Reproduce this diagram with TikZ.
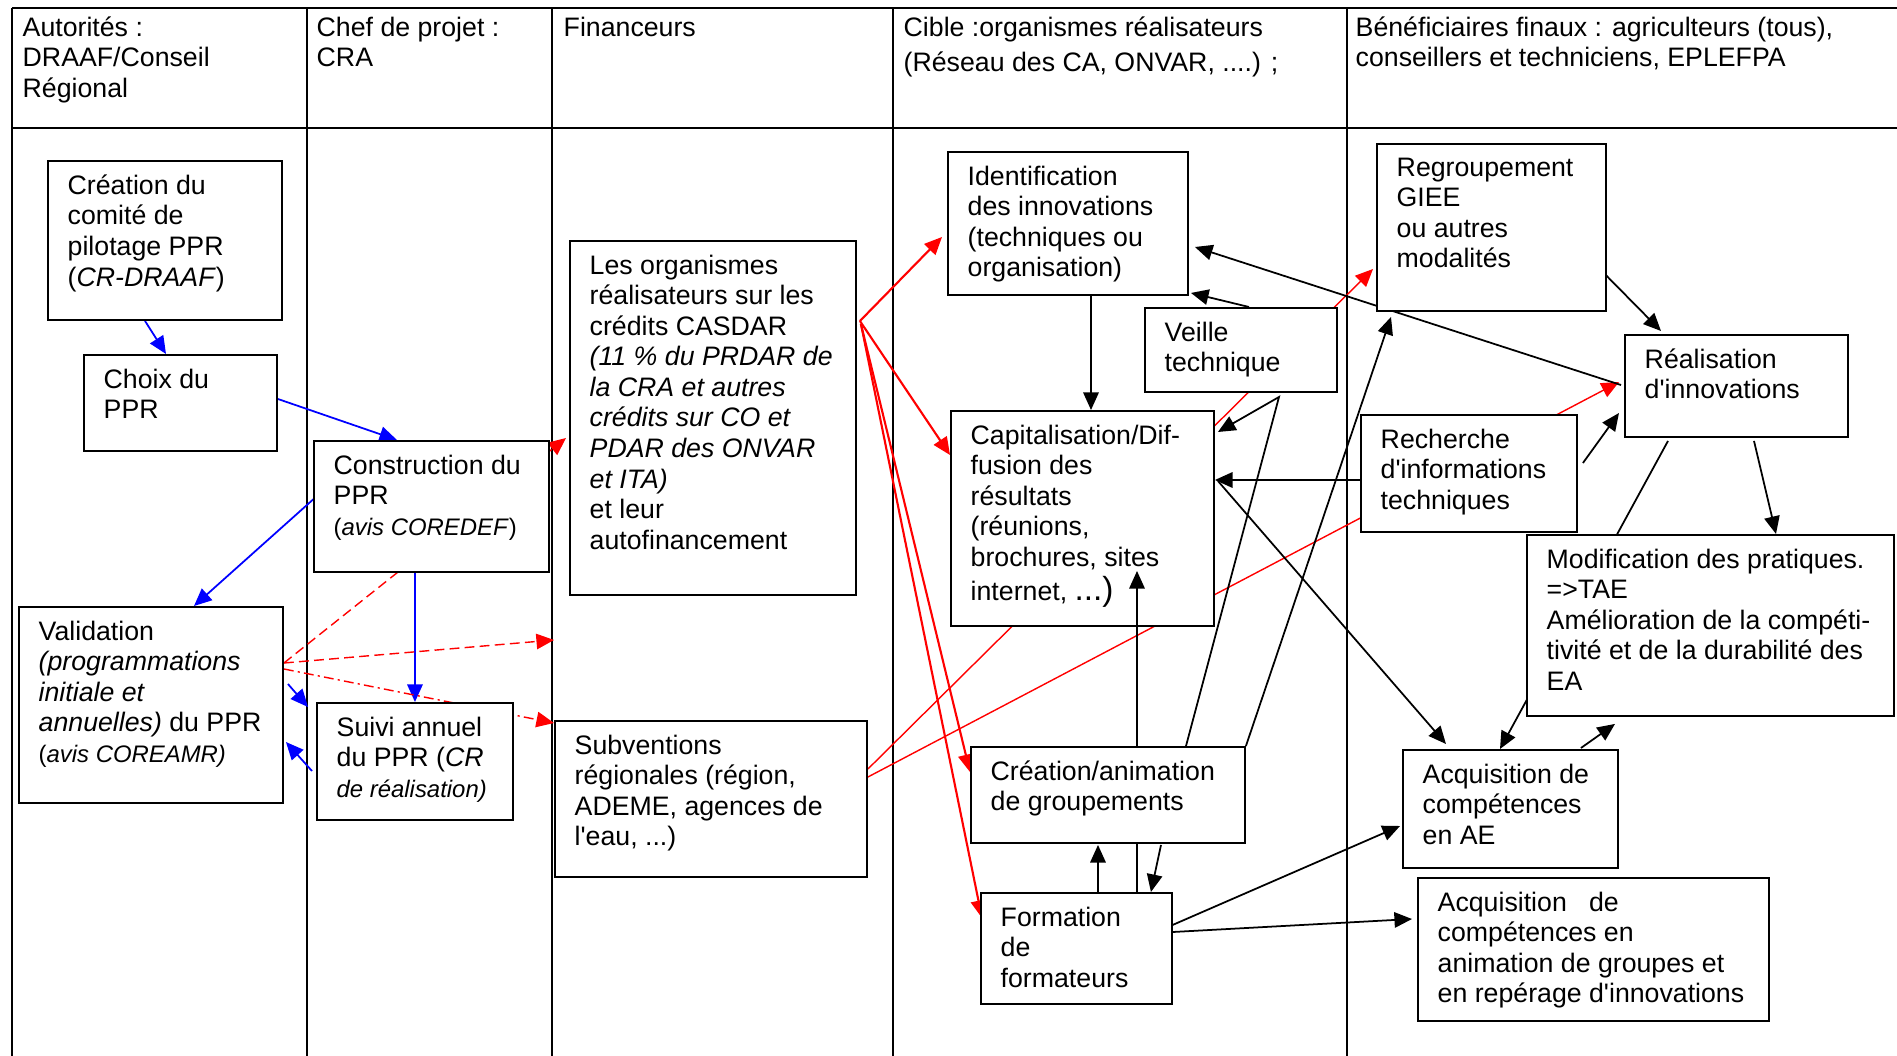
\documentclass[tikz,border=0pt]{standalone}
\usepackage{fontspec}
\setmainfont{Liberation Sans}[Ligatures=TeXOff]
\usetikzlibrary{calc,arrows.meta}

\pgfdeclarelayer{fond}
\pgfsetlayers{fond,main}

\newcommand{\petit}{\fontsize{6.8pt}{8.7pt}\selectfont}
% boite : nom, x1, y1, x2, y2, texte
\newcommand{\boite}[6]{%
  \node[cadre, minimum width={(#4-#2)*0.1mm}, minimum height={(#5-#3)*0.1mm}] (#1) at (#2,#3) {};
  \node[texte] (#1-t) at ($(#1.north west)+(20,14)$) {#6};
}

\begin{document}
\begin{tikzpicture}[x=0.1mm, y=-0.1mm,
  cadre/.style={draw, line width=0.55pt, fill=white, anchor=north west, inner sep=0pt},
  texte/.style={anchor=north west, align=left, inner sep=0pt, font=\fontsize{7.6pt}{8.7pt}\selectfont},
  fleche/.style={-{Triangle[length=5pt,width=4.4pt]}, line width=0.5pt},
  bleu/.style={fleche, blue},
  rouge/.style={fleche, red, line width=0.6pt},
  fin/.style={line width=0.4pt},
  tirets/.style={dash pattern=on 2.8pt off 1.5pt},
  mixte/.style={dash pattern=on 2.8pt off 1.2pt on 0.6pt off 1.2pt},
  trait/.style={line width=0.6pt}]

\useasboundingbox (0,0) rectangle (1897,1056);

% ===== Tableau =====
\begin{pgfonlayer}{fond}
\draw[trait] (12,8) -- (1897,8);
\draw[trait] (12,128) -- (1897,128);
\foreach \x in {12,307,552,893,1347} {
    \draw[trait] (\x,8) -- (\x,1056);
}
\end{pgfonlayer}

% ===== En-tetes =====
\node[texte] (h-aut) at (22,16) {Autorités :\\DRAAF/Conseil\\Régional};
\node[texte] (h-chef) at (316,16) {Chef de projet :\\CRA};
\node[texte] (h-fin) at (563,16) {Financeurs};
\node[texte] (h-cible) at (903,16) {Cible :organismes réalisateurs\\[1.3pt](Réseau des CA, ONVAR, ....) ;};
\node[texte] (h-benef) at (1355,16) {Bénéficiaires finaux : agriculteurs (tous),\\conseillers et techniciens, EPLEFPA};

% ===== Autorites / chef de projet =====
\boite{crea}{47}{160}{281}{319}{Création du\\comité de\\pilotage PPR\\(\textit{CR-DRAAF})}
\boite{choix}{83}{354}{276}{450}{Choix du\\PPR}
\boite{cons}{313}{440}{548}{571}{Construction du\\PPR\\{\petit(\textit{avis COREDEF})}}
\boite{valid}{18}{606}{282}{802}{Validation\\\textit{(programmations}\\\textit{initiale et}\\\textit{annuelles)} du PPR\\{\petit(\textit{avis COREAMR)}}}
\boite{suivi}{316}{702}{512}{819}{Suivi annuel\\du PPR (\textit{CR}\\{\petit\textit{de réalisation)}}}

% ===== Financeurs =====
\boite{orga}{569}{240}{855}{594}{Les organismes\\réalisateurs sur les\\crédits CASDAR\\\textit{(11 \% du PRDAR de}\\\textit{la CRA et autres}\\\textit{crédits sur CO et}\\\textit{PDAR des ONVAR}\\\textit{et ITA)}\\et leur\\autofinancement}
\boite{subv}{554}{720}{866}{876}{Subventions\\régionales (région,\\ADEME, agences de\\l'eau, ...)}

% ===== Organismes realisateurs =====
\boite{ident}{947}{151}{1187}{294}{Identification\\des innovations\\(techniques ou\\organisation)}
\boite{veille}{1144}{307}{1336}{391}{Veille\\technique}
\boite{capi}{950}{410}{1213}{625}{Capitalisation/Dif-\\fusion des\\résultats\\(réunions,\\brochures, sites\\[1pt]internet, {\fontsize{9.5pt}{9.5pt}\selectfont ...)}}
\boite{form}{980}{892}{1171}{1003}{Formation\\de\\formateurs}
% fleche formation -> capitalisation, cachee sous creation/animation
\draw[fleche] ($(form.north west)+(157,0)$) -- ($(capi.north west)+(187,161)$);
\boite{cregr}{970}{746}{1244}{842}{Création/animation\\de groupements}

% ===== Beneficiaires =====
\boite{regr}{1376}{143}{1605}{310}{Regroupement\\GIEE\\ou autres\\modalités}
\boite{real}{1624}{334}{1847}{436}{Réalisation\\d'innovations}
\boite{rech}{1360}{414}{1576}{531}{Recherche\\d'informations\\techniques}
\boite{modif}{1526}{534}{1893}{715}{Modification des pratiques.\\=>TAE\\Amélioration de la compéti-\\tivité et de la durabilité des\\EA}
\boite{acqae}{1402}{749}{1617}{867}{Acquisition de\\compétences\\en AE}
\boite{acqan}{1417}{877}{1768}{1020}{Acquisition\ \ \ de\\compétences en\\animation de groupes et\\en repérage d'innovations}

\begin{pgfonlayer}{fond}
% ===== Fleches bleues =====
\draw[bleu] ($(crea.south west)+(98,0)$) -- ($(choix.north west)+(83,0)$);
\draw[bleu] ($(choix.north east)+(0,45)$) -- ($(cons.north west)+(84,0)$);
\draw[bleu] ($(cons.north west)+(4,56)$) -- ($(valid.north west)+(176,0)$);
\draw[bleu] (suivi.north |- cons.south) -- (suivi.north);
\draw[bleu] ($(valid.north east)+(4,78)$) -- ($(suivi.north west)+(-8,5)$);
\draw[bleu] ($(suivi.north west)+(-4,69)$) -- ($(valid.north east)+(2,136)$);

% ===== Fleches rouges =====
\coordinate (col-fin) at (554,640);
\draw[rouge, fin, tirets] ($(valid.north east)+(0,57)$) -- ($(orga.north west)+(-3,198)$);
\draw[rouge, fin, tirets] ($(valid.north east)+(0,57)$) -- (col-fin);
\draw[rouge, fin, mixte] ($(valid.north east)+(0,63)$) -- ($(subv.north west)+(0,3)$);
\draw[rouge] ($(orga.north east)+(3,81)$) -- ($(ident.north west)+(-5,86)$);
\draw[rouge] ($(orga.north east)+(3,81)$) -- ($(capi.north west)+(0,45)$);
\draw[rouge] ($(orga.north east)+(4,84)$) -- ($(cregr.north west)+(0,26)$);
\draw[rouge] ($(orga.north east)+(4,84)$) -- ($(form.north west)+(2,26)$);
\draw[rouge, fin] ($(subv.north east)+(0,49)$) -- ($(regr.north west)+(-3,126)$);
\draw[rouge, fin] ($(subv.north east)+(0,57)$) -- ($(real.north west)+(-5,48)$);

% ===== Fleches noires =====
\coordinate (coude) at (1279,397);
\draw[fleche] ($(ident.south west)+(144,0)$) -- ($(capi.north west)+(141,0)$);
\draw[fleche] ($(veille.north west)+(105,0)$) -- ($(ident.south east)+(2,-3)$);
\draw[fleche] ($(real.north west)+(-3,51)$) -- ($(ident.north east)+(6,96)$);
\draw[fleche] ($(cregr.north west)+(216,0)$) -- (coude) -- ($(capi.north east)+(3,22)$);
\draw[fleche] (cregr.north east) -- ($(regr.south west)+(15,5)$);
\draw[fleche] ($(rech.north west)+(5,66)$) -- ($(capi.north east)+(0,70)$);
\draw[fleche] ($(capi.north east)+(3,71)$) -- ($(acqae.north west)+(44,-5)$);
\draw[fleche] ($(rech.north east)+(5,49)$) -- ($(real.north west)+(-5,79)$);
\draw[fleche] ($(regr.north east)+(-13,120)$) -- ($(real.north west)+(37,-3)$);
\draw[fleche] ($(real.south west)+(130,3)$) -- ($(modif.north west)+(250,0)$);
\draw[fleche] ($(real.south west)+(44,3)$) -- ($(acqae.north west)+(98,0)$);
\draw[fleche] ($(acqae.north east)+(-38,-1)$) -- ($(modif.south west)+(89,7)$);
\draw[fleche] ($(form.north east)+(-5,35)$) -- ($(acqae.north west)+(-2,77)$);
\draw[fleche] ($(form.north east)+(0,40)$) -- ($(acqan.north west)+(-5,42)$);
\draw[fleche] ($(form.north west)+(118,0)$) -- ($(cregr.south west)+(128,1)$);
\draw[fleche] ($(cregr.south west)+(191,1)$) -- ($(form.north east)+(-22,0)$);
\end{pgfonlayer}

\end{tikzpicture}
\end{document}
